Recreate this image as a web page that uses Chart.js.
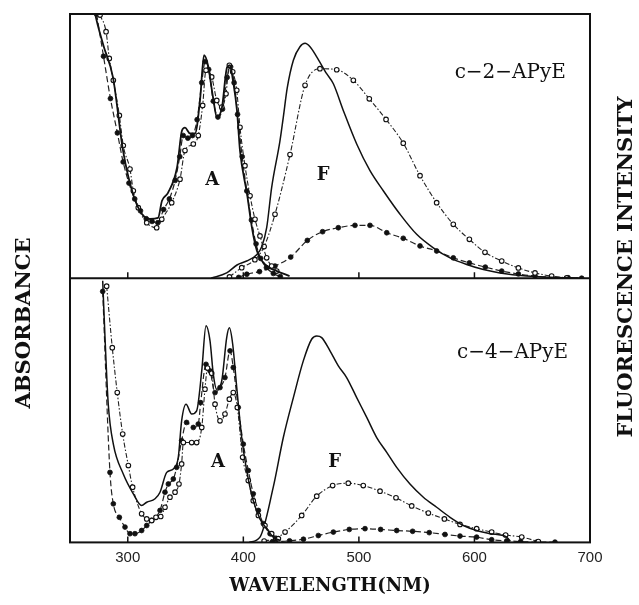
<!DOCTYPE html>
<html>
<head>
<meta charset="utf-8">
<script src="https://cdn.jsdelivr.net/npm/chart.js@4.4.1/dist/chart.umd.min.js"></script>
<style>
  html, body { margin: 0; padding: 0; background: #ffffff; }
  #wrap { width: 639px; height: 605px; }
</style>
</head>
<body>
<div id="wrap"><canvas id="c" width="639" height="605"></canvas></div>
<script>
// ---------------- DATA (wavelength nm, relative value 0-100) ----------------
const wavelengthTicks = [300, 400, 500, 600, 700];
const panelLabels = ["c\u22122\u2212APyE", "c\u22124\u2212APyE"];

// top panel: c-2-APyE, absorbance (A)
const c2AbsSolid = [[268,110],[271.6,100.4],[279,88],[287.2,76],[295.9,48.3],[304.5,31.9],[312.3,24.3],[319.2,22.4],[326.2,22.8],[329.6,29.3],[334.8,32.3],[342.6,41.8],[346.9,55.9],[349.5,57],[353.8,54.8],[358.2,54.8],[362.5,67.3],[366,84.4],[369.4,80.6],[373.8,68.4],[377.2,60.8],[381.5,64.6],[385.9,79.8],[388.5,80.6],[391,74.9],[394.5,63.5],[397.1,48.3],[403.2,31.9],[407.5,19],[411.8,10.3],[416.2,6.5],[423.1,3.8],[429.1,2.7],[440,0.8]];
const c2AbsOpen = [[276,99.6],[281.2,93.3],[284,83.2],[287.5,74.9],[292.7,61.6],[296.1,50.2],[301.9,41.3],[304.8,33.1],[309.1,26.7],[316.4,21],[325,19.1],[329.4,22.3],[338,28.6],[345.2,37.5],[349.5,48.3],[356.7,50.8],[361,54],[364.8,65.4],[367.7,78.7],[372.6,76.2],[377,67.3],[381.3,64.8],[385,69.8],[387.9,80.6],[390.8,78.1],[394.3,71.1],[397.1,57.1],[401.4,42.6],[405.8,31.2],[410.1,22.3],[414.4,16],[420.2,7.7],[424.5,4.6],[428.9,2.7]];
const c2AbsFilled = [[273,100],[279,84],[285,68],[291,55],[296,44],[301,36],[306,30],[311,25.5],[316,22.5],[321,21.5],[326,21],[331,26],[336,30],[341,37],[345,46],[348,54],[352,53],[356,54],[360,60],[364,74],[367,82],[370,79],[374,67],[378,61],[382,64],[386,76],[389,80],[392,74],[395,62],[399,46],[403,33],[407,22],[411,13],[415,7.5],[420,4],[426,1.8],[432,0.6]];
// top panel: c-2-APyE, fluorescence (F)
const c2FluSolid = [[372,0],[385.6,2],[394.5,5],[402.9,6.5],[411.8,9],[416,12],[420.2,19.1],[424.5,34.3],[431.7,52],[434.6,61],[438,72],[443.3,82.5],[449,87.6],[453.4,88.9],[457.7,87.6],[463.5,83.8],[472.1,77.4],[477.9,73.6],[486.5,63.5],[498.1,50.8],[509.6,40.7],[521.1,33.1],[535.6,24.2],[550,16.6],[564.4,11.5],[578.9,7.7],[593.3,5.2],[607.7,3.3],[622.1,2],[645,0.8],[670,0.3],[690,0.1]];
const c2FluOpen = [[388,0.5],[398.6,4],[410,7],[418,12],[427.4,24.2],[440.4,46.8],[453.4,73],[466.3,79.3],[480.8,78.9],[495.2,74.9],[509,67.9],[523.5,60.1],[538.4,51.1],[552.9,38.8],[567.3,28.6],[581.7,20.4],[595.6,14.7],[609.1,9.8],[623.6,6.5],[638,3.9],[652.4,2],[666.8,0.8],[679.8,0.1]];
const c2FluFilled = [[396,0.3],[403,1.5],[414,2.5],[427.4,4.6],[441,8],[455.4,14.3],[468.6,17.6],[482.2,19.1],[496.6,20],[509.6,20],[524.1,17.2],[538.4,15.1],[552.9,12.2],[567.3,10.3],[581.7,7.7],[595.6,5.8],[609.4,4.2],[623.6,2.7],[638,1.6],[652.4,0.8],[666.8,0.4],[681,0.2],[692.8,0]];

// bottom panel: c-4-APyE, absorbance (A)
const c4AbsSolid = [[278.3,99],[280.3,77.5],[283.1,52.3],[287.5,37.2],[296.1,25.9],[304.8,18.4],[312,14],[316.4,15.2],[323.6,16.5],[327.9,19],[333.7,26.5],[339.4,27.8],[343.7,32.2],[346.6,46],[350.4,52.3],[355.3,48.6],[359.6,49.8],[364,64.9],[367.7,82],[371.2,76.2],[374,63.7],[376.9,58],[381.3,61.1],[385.6,77.5],[387.9,81.2],[390.8,75],[394.3,58.6],[398.6,39.7],[402.9,27.2],[408.6,15.8],[414.4,8.9],[420.2,5.2],[425.9,2],[431.7,0.8]];
const c4AbsOpen = [[281.7,97],[286.6,73.7],[290.9,56.7],[295.6,41],[300.5,29.1],[304.2,20.9],[312,10.8],[316.4,8.9],[320.7,8.3],[324.4,9.5],[328.5,9.8],[332.2,13.3],[336.5,17.1],[340.9,19],[344.3,22.1],[346.6,29.7],[348.1,37.8],[355.3,37.8],[359.6,37.8],[364,43.5],[366.8,58],[369,66],[372.6,64],[375.5,52.3],[379.8,46],[384.1,48.6],[387.9,54.2],[391.3,56.7],[394.8,51.1],[399.4,32.2],[404.3,23.4],[408.6,15.8],[413,10.2],[418.7,6.4],[424.5,3.3],[430.3,1.4]];
const c4AbsFilled = [[278.3,95],[284.6,26.5],[287.5,14.6],[292.7,9.5],[297.6,5.8],[301.9,3.3],[306.2,3.3],[312,4.5],[316.4,6.4],[320.7,8.3],[327.9,12.1],[332.2,19],[335.1,22.1],[339.4,24],[342.3,28.4],[346.6,38.5],[350.9,45.4],[356.7,43.5],[361,44.8],[363.1,52.9],[367.7,67.4],[371.2,64.9],[375.5,56.7],[379.8,58.6],[384.1,62.4],[388.5,72.5],[391.3,66.2],[395.6,51.1],[400,37.2],[404.3,27.2],[408.6,18.4],[413,12.1],[417.3,7.1],[423.1,3.3],[428.9,1.4]];
// bottom panel: c-4-APyE, fluorescence (F)
const c4FluSolid = [[405,0],[414.4,2],[425.9,20.9],[434.6,39.7],[443.3,54.8],[451.9,68.7],[459.1,76.9],[463.5,78.1],[467.8,77.5],[475,72.5],[482.2,66.8],[489.4,62.4],[498.1,54.8],[506.8,47.3],[515.4,39.7],[524.1,34.1],[532.7,28.4],[544.2,22.1],[555.8,17.1],[567.3,13.3],[578.9,9.5],[590.4,6.4],[601.9,4.5],[613.5,3.3],[627.9,2],[631,0.5]];
const c4FluOpen = [[418,0.5],[428,1.5],[436.1,3.9],[450.5,10.2],[463.5,17.5],[477.3,21.5],[490.8,22.4],[503.8,21.5],[518.3,19.4],[532.1,16.9],[545.7,13.8],[560.1,11.1],[574,8.9],[587.5,6.8],[601.9,5.2],[614.9,3.9],[627,2.8],[640.9,2],[655.3,0.3]];
const c4FluFilled = [[425,0.2],[440,0.6],[452,1.2],[464.9,2.6],[477.9,3.9],[491.7,4.9],[505.3,5.2],[518.8,4.9],[532.7,4.5],[546.5,4.2],[560.9,3.7],[574.5,3],[587.5,2.4],[601.9,2],[614.9,1],[628,0.6],[640,0.3],[653.8,0.1],[669.7,0.1]];

// ---------------- STYLES ----------------
const toXY = arr => arr.map(p => ({x: p[0], y: p[1]}));
function solid(data, axis, w) {
  return {data: toXY(data), yAxisID: axis, borderColor: '#111', borderWidth: w || 1.5,
          pointRadius: 0, fill: false, cubicInterpolationMode: 'monotone'};
}
function open(data, axis) {
  return {data: toXY(data), yAxisID: axis, borderColor: '#222', borderWidth: 1.1,
          borderDash: [5, 2, 1.5, 2], pointRadius: 2.3, pointBorderWidth: 1.1,
          pointBackgroundColor: '#fff', pointBorderColor: '#111', fill: false,
          cubicInterpolationMode: 'monotone'};
}
function filled(data, axis) {
  return {data: toXY(data), yAxisID: axis, borderColor: '#222', borderWidth: 1.2,
          borderDash: [6, 3], pointRadius: 2.4, pointBorderWidth: 0.8,
          pointBackgroundColor: '#111', pointBorderColor: '#111', fill: false,
          cubicInterpolationMode: 'monotone'};
}

const frameAndText = {
  id: 'frameAndText',
  afterDatasetsDraw(chart) {
    const ctx = chart.ctx, a = chart.chartArea;
    const xs = chart.scales.x, yT = chart.scales.yTop, yB = chart.scales.yBot;
    ctx.save();
    ctx.strokeStyle = '#111';
    ctx.lineWidth = 2;
    ctx.strokeRect(a.left, a.top, a.right - a.left, a.bottom - a.top);
    ctx.beginPath();
    ctx.moveTo(a.left, yT.bottom); ctx.lineTo(a.right, yT.bottom);
    ctx.stroke();
    ctx.lineWidth = 1.5;
    wavelengthTicks.slice(0, -1).forEach(v => {
      const px = xs.getPixelForValue(v);
      ctx.beginPath();
      ctx.moveTo(px, yT.bottom); ctx.lineTo(px, yT.bottom - 6);
      ctx.moveTo(px, yB.bottom); ctx.lineTo(px, yB.bottom - 6);
      ctx.stroke();
    });
    ctx.fillStyle = '#111';
    ctx.textAlign = 'center';
    ctx.textBaseline = 'middle';
    ctx.font = '20px "DejaVu Serif"';
    ctx.fillText(panelLabels[0], xs.getPixelForValue(631), yT.getPixelForValue(77.6));
    ctx.fillText(panelLabels[1], xs.getPixelForValue(633), yB.getPixelForValue(71.7));
    ctx.font = 'bold 18px "DejaVu Serif"';
    ctx.fillText('A', xs.getPixelForValue(373), yT.getPixelForValue(36.9));
    ctx.fillText('F', xs.getPixelForValue(469), yT.getPixelForValue(38.8));
    ctx.fillText('A', xs.getPixelForValue(378), yB.getPixelForValue(30.2));
    ctx.fillText('F', xs.getPixelForValue(479), yB.getPixelForValue(30.2));
    // side titles
    ctx.font = 'bold 21px "DejaVu Serif"';
    ctx.save();
    ctx.translate(25, 323); ctx.rotate(-Math.PI / 2);
    ctx.fillText('ABSORBANCE', 0, 0);
    ctx.restore();
    ctx.save();
    ctx.translate(627, 267); ctx.rotate(-Math.PI / 2);
    ctx.fillText('FLUORESCENCE INTENSITY', 0, 0);
    ctx.restore();
    ctx.restore();
  }
};

new Chart(document.getElementById('c'), {
  type: 'line',
  data: {
    datasets: [
      solid(c2AbsSolid, 'yTop', 1.8), open(c2AbsOpen, 'yTop'), filled(c2AbsFilled, 'yTop'),
      solid(c2FluSolid, 'yTop', 1.5), open(c2FluOpen, 'yTop'), filled(c2FluFilled, 'yTop'),
      solid(c4AbsSolid, 'yBot', 1.5), open(c4AbsOpen, 'yBot'), filled(c4AbsFilled, 'yBot'),
      solid(c4FluSolid, 'yBot', 1.5), open(c4FluOpen, 'yBot'), filled(c4FluFilled, 'yBot')
    ]
  },
  options: {
    responsive: false,
    devicePixelRatio: 1,
    animation: false,
    layout: { padding: { left: 70, right: 49, top: 14, bottom: 8 } },
    plugins: { legend: { display: false }, tooltip: { enabled: false } },
    scales: {
      x: {
        type: 'linear', min: 250, max: 700,
        grid: { display: false, drawTicks: false }, border: { display: false },
        afterBuildTicks: s => { s.ticks = wavelengthTicks.map(v => ({value: v})); },
        ticks: { color: '#222', padding: 6, font: { family: '"Liberation Sans"', size: 15 },
                 maxRotation: 0, autoSkip: false },
        title: { display: true, text: 'WAVELENGTH(NM)', color: '#111',
                 font: { family: '"DejaVu Serif"', size: 18, weight: 'bold' },
                 padding: { top: 3, bottom: 0 } }
      },
      yBot: { type: 'linear', position: 'left', stack: 'panels', stackWeight: 1,
              min: 0, max: 100, display: false },
      yTop: { type: 'linear', position: 'left', stack: 'panels', stackWeight: 1,
              min: 0, max: 100, display: false }
    }
  },
  plugins: [frameAndText]
});
</script>
</body>
</html>
